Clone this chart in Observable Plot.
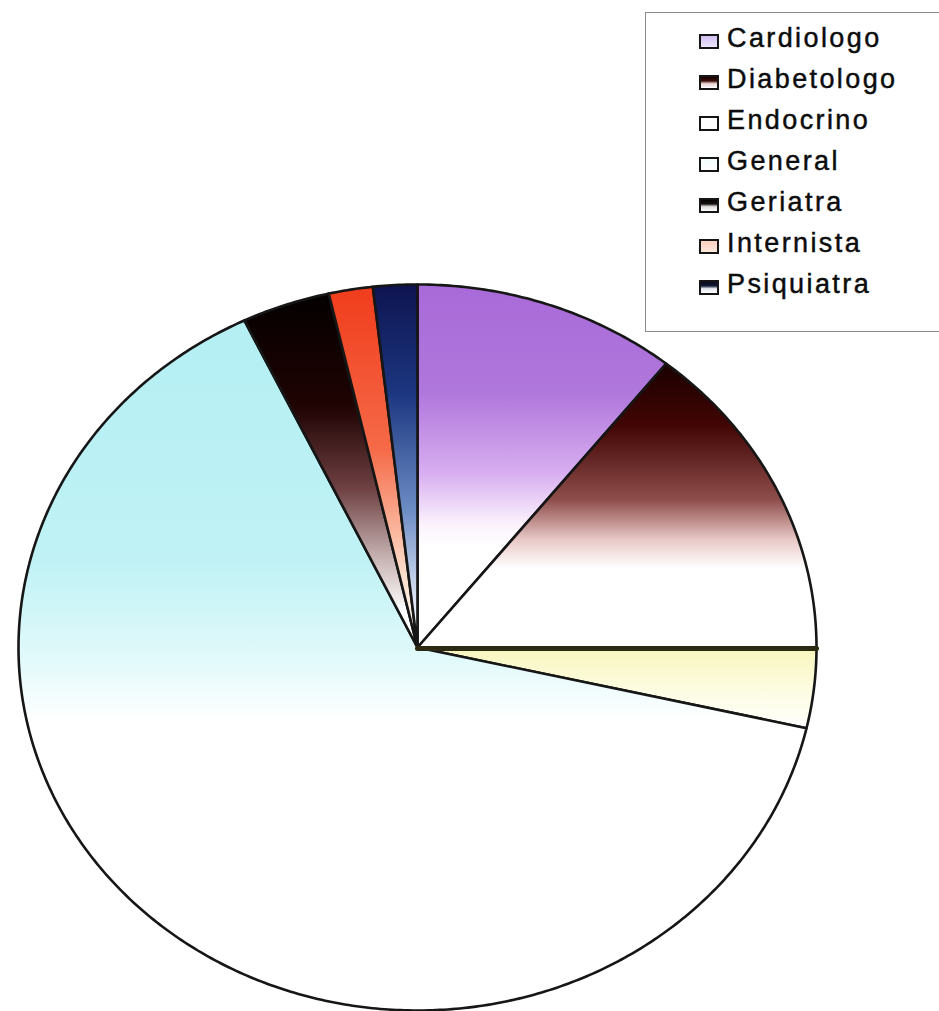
<!DOCTYPE html>
<html>
<head>
<meta charset="utf-8">
<script src="https://cdn.jsdelivr.net/npm/d3@7"></script>
<script src="https://cdn.jsdelivr.net/npm/@observablehq/plot@0.6"></script>
<style>
  html, body { margin: 0; padding: 0; background: #ffffff; }
  #wrap { position: relative; width: 939px; height: 1011px; overflow: hidden; }
  #legend {
    position: absolute; left: 645px; top: 12px; width: 310px; height: 320px;
    border: 1px solid #8a8a8a; background: #ffffff; box-sizing: border-box;
    font-family: "Liberation Sans", Arial, sans-serif; font-size: 27px; letter-spacing: 2.4px; color: #0c0c0c;
    -webkit-text-stroke: 0.45px #0c0c0c;
  }
  .item { position: absolute; left: 0; height: 41px; line-height: 41px; white-space: nowrap; }
  .sw { position: absolute; left: 53px; top: 16px; width: 16px; height: 11px; border: 2px solid #151515; }
  .lab { position: absolute; left: 81px; top: 0; }
</style>
</head>
<body>
<div id="wrap"><div id="legend"></div></div>
<script>
// Data: count by specialty
const categories = ["Cardiologo", "Diabetologo", "Endocrino", "General", "Geriatra", "Internista", "Psiquiatra"];
const counts = [6, 8, 2, 36, 2, 1, 1];

// Styles: vertical gradient stops per slice (offset, colour)
const gradients = [
  [[0, "#a86ad8"], [0.3, "#b077dc"], [0.52, "#d8aef0"], [0.66, "#fbf2fd"], [0.72, "#ffffff"], [1, "#ffffff"]],
  [[0, "#1a0000"], [0.22, "#420604"], [0.48, "#8e4e4c"], [0.62, "#e8c8c6"], [0.72, "#ffffff"], [1, "#ffffff"]],
  [[0, "#f8f6bc"], [0.6, "#fdfde6"], [1, "#ffffff"]],
  [[0, "#b4eff3"], [0.35, "#c0f2f5"], [0.5, "#e4fafb"], [0.58, "#ffffff"], [1, "#ffffff"]],
  [[0, "#040000"], [0.32, "#200303"], [0.55, "#6e4042"], [0.75, "#c8b4b4"], [0.9, "#ffffff"], [1, "#ffffff"]],
  [[0, "#f03c1c"], [0.45, "#f56a48"], [0.8, "#fde0cc"], [1, "#ffffff"]],
  [[0, "#0e1450"], [0.3, "#1c3680"], [0.62, "#6c8cc4"], [0.92, "#f4f6ff"], [1, "#ffffff"]]
];
// Legend swatch fills (small, washed-out versions)
const swatches = [
  "linear-gradient(#d0c0f0,#ece4fa)",
  "linear-gradient(#1a0000 0%,#3a0a08 35%,#e8d0d0 60%,#ffffff 100%)",
  "linear-gradient(#ffffff,#ffffff)",
  "linear-gradient(#f4fdfd,#ffffff)",
  "linear-gradient(#050000 0%,#101010 35%,#e0dada 60%,#ffffff 100%)",
  "linear-gradient(#fbd0c0,#fce8dc)",
  "linear-gradient(#0a0a20 0%,#101830 35%,#e6e8f0 60%,#ffffff 100%)"
];

const data = categories.map((name, i) => ({ name, value: counts[i] }));
const arcs = d3.pie().sort(null).value(d => d.value)(data);

// Slice outlines (angle clockwise from 12 o'clock, unit circle)
const pts = [];
arcs.forEach(a => {
  const name = a.data.name;
  pts.push({ name, x: 0, y: 0 });
  const n = Math.max(4, Math.ceil((a.endAngle - a.startAngle) / 0.01));
  for (let k = 0; k <= n; k++) {
    const t = a.startAngle + (a.endAngle - a.startAngle) * k / n;
    pts.push({ name, x: Math.sin(t), y: Math.cos(t) });
  }
  pts.push({ name, x: 0, y: 0 });
});
// heavier edge between Diabetologo and Endocrino
const endoStart = arcs[2].startAngle;
const edge = [{ x: 0, y: 0 }, { x: Math.sin(endoStart), y: Math.cos(endoStart) }];

const gradId = i => `grad${i}`;

const chart = Plot.plot({
  width: 939,
  height: 1011,
  margin: 0,
  x: { domain: [-1, 1], range: [18, 816], axis: null },
  y: { domain: [-1, 1], range: [1010, 284], axis: null },
  color: { type: "ordinal", domain: categories, range: categories.map((d, i) => `url(#${gradId(i)})`), legend: false },
  marks: [
    Plot.line(pts, {
      x: "x", y: "y", z: "name", fill: "name",
      stroke: "#161616", strokeWidth: 2.6, strokeLinejoin: "round", curve: "linear"
    }),
    Plot.line(edge, { x: "x", y: "y", stroke: "#2c2a12", strokeWidth: 5, dy: 1 })
  ]
});

const defs = d3.select(chart).insert("defs", ":first-child");
gradients.forEach((stops, i) => {
  const g = defs.append("linearGradient").attr("id", gradId(i))
    .attr("x1", 0).attr("y1", 0).attr("x2", 0).attr("y2", 1);
  stops.forEach(([o, c]) => g.append("stop").attr("offset", o).attr("stop-color", c));
});

const wrap = document.getElementById("wrap");
wrap.insertBefore(chart, wrap.firstChild);

// Legend
const legend = d3.select("#legend");
categories.forEach((name, i) => {
  const it = legend.append("div").attr("class", "item").style("top", `${5 + i * 41}px`);
  it.append("div").attr("class", "sw").style("background", swatches[i]);
  it.append("span").attr("class", "lab").text(name);
});
</script>
</body>
</html>
